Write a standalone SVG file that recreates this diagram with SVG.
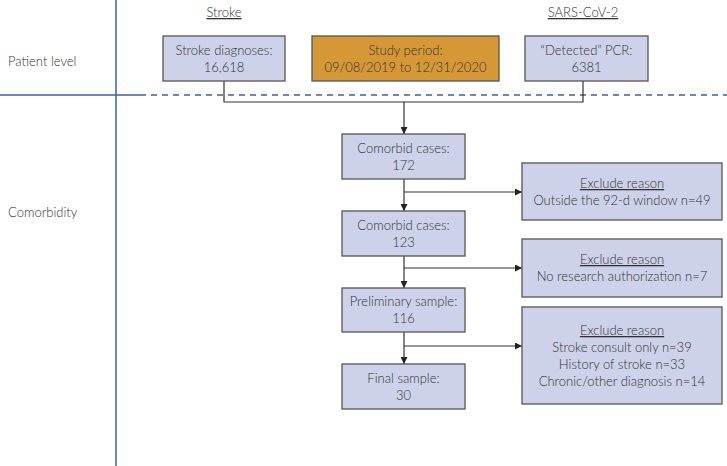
<svg xmlns="http://www.w3.org/2000/svg" width="727" height="466" viewBox="0 0 727 466">
<defs>
<style>
text{font-family:"Lato","Open Sans","Liberation Sans",sans-serif;font-size:13px;font-weight:300;fill:#333;}
.c{text-anchor:middle;}
.box{fill:#CDD1E9;stroke:#555;stroke-width:1.3;}
.orange{fill:#D69837;stroke:#555;stroke-width:1.3;}
.conn{fill:none;stroke:#333;stroke-width:1.2;}
.guide{stroke:#3A5FB0;stroke-width:1.5;fill:none;}
</style>
<marker id="ah" viewBox="0 0 10 10" refX="10" refY="5" markerWidth="7" markerHeight="7" orient="auto" markerUnits="userSpaceOnUse">
<path d="M0,0 L10,5 L0,10 z" fill="#222"/>
</marker>
</defs>
<rect width="727" height="466" fill="#fff"/>
<g id="guides">
<line class="guide" x1="116" y1="0" x2="116" y2="466"/>
<line class="guide" x1="0" y1="95" x2="140" y2="95"/>
<line class="guide" x1="140" y1="95" x2="727" y2="95" stroke-dasharray="6,5" stroke-width="1.2" stroke="#5a78c0"/>
</g>
<g id="labels">
<text x="8" y="66">Patient level</text>
<text x="8" y="217">Comorbidity</text>
<text class="c" x="224" y="17" text-decoration="underline">Stroke</text>
<text class="c" x="583" y="17" text-decoration="underline">SARS-CoV-2</text>
</g>
<g id="connectors">
<polyline class="conn" points="224,81 224,102 583,102 583,81"/>
<line class="conn" x1="404" y1="102" x2="404" y2="134" marker-end="url(#ah)"/>
<line class="conn" x1="404" y1="179" x2="404" y2="211" marker-end="url(#ah)"/>
<line class="conn" x1="404" y1="192" x2="522" y2="192" marker-end="url(#ah)"/>
<line class="conn" x1="404" y1="256" x2="404" y2="288" marker-end="url(#ah)"/>
<line class="conn" x1="404" y1="268" x2="522" y2="268" marker-end="url(#ah)"/>
<line class="conn" x1="404" y1="332" x2="404" y2="364" marker-end="url(#ah)"/>
<line class="conn" x1="404" y1="346" x2="522" y2="346" marker-end="url(#ah)"/>
</g>
<g id="stroke">
<rect class="box" x="163" y="36" width="122" height="45"/>
<text class="c" x="224" y="55">Stroke diagnoses:</text>
<text class="c" x="224" y="72">16,618</text>
</g>
<g id="study">
<rect class="orange" x="312" y="36" width="187" height="45"/>
<text class="c" x="405.5" y="55">Study period:</text>
<text class="c" x="405.5" y="72">09/08/2019 to 12/31/2020</text>
</g>
<g id="pcr">
<rect class="box" x="525" y="36" width="123" height="45"/>
<text class="c" x="586.5" y="55">“Detected” PCR:</text>
<text class="c" x="586.5" y="72">6381</text>
</g>
<g id="c172">
<rect class="box" x="342" y="134" width="123" height="45"/>
<text class="c" x="403.5" y="153">Comorbid cases:</text>
<text class="c" x="403.5" y="170">172</text>
</g>
<g id="ex1">
<rect class="box" x="522" y="163" width="200" height="57"/>
<text class="c" x="622" y="188" text-decoration="underline">Exclude reason</text>
<text class="c" x="622" y="205">Outside the 92-d window n=49</text>
</g>
<g id="c123">
<rect class="box" x="342" y="211" width="123" height="45"/>
<text class="c" x="403.5" y="230">Comorbid cases:</text>
<text class="c" x="403.5" y="247">123</text>
</g>
<g id="ex2">
<rect class="box" x="522" y="239" width="200" height="58"/>
<text class="c" x="622" y="264" text-decoration="underline">Exclude reason</text>
<text class="c" x="622" y="281">No research authorization n=7</text>
</g>
<g id="prelim">
<rect class="box" x="342" y="288" width="123" height="44"/>
<text class="c" x="403.5" y="306">Preliminary sample:</text>
<text class="c" x="403.5" y="323">116</text>
</g>
<g id="ex3">
<rect class="box" x="522" y="307" width="200" height="97"/>
<text class="c" x="622" y="335" text-decoration="underline">Exclude reason</text>
<text class="c" x="622" y="352">Stroke consult only n=39</text>
<text class="c" x="622" y="369">History of stroke n=33</text>
<text class="c" x="622" y="386">Chronic/other diagnosis n=14</text>
</g>
<g id="final">
<rect class="box" x="342" y="364" width="123" height="45"/>
<text class="c" x="403.5" y="383">Final sample:</text>
<text class="c" x="403.5" y="400">30</text>
</g>
</svg>
